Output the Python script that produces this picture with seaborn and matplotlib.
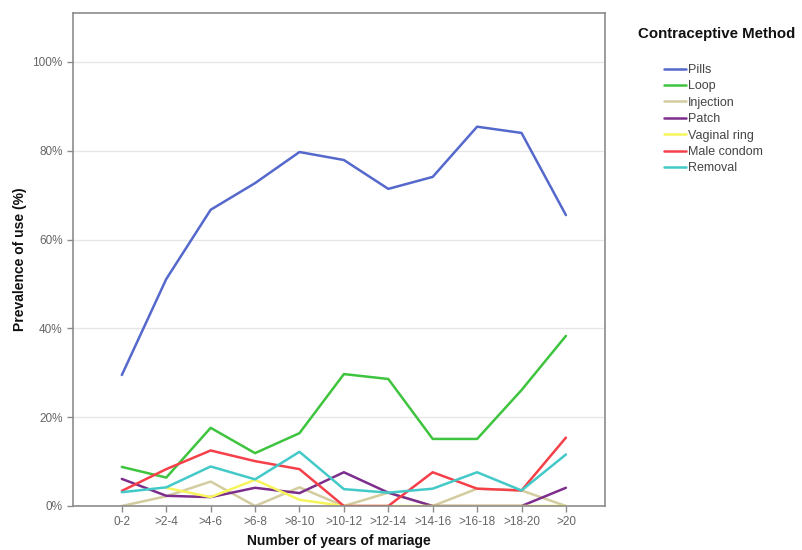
import numpy as np
import pandas as pd
import matplotlib
matplotlib.use("Agg")
import matplotlib.pyplot as plt
import seaborn as sns
from matplotlib.lines import Line2D

categories = ["0-2", ">2-4", ">4-6", ">6-8", ">8-10", ">10-12", ">12-14",
              ">14-16", ">16-18", ">18-20", ">20"]
pills = [29.5, 51.1, 66.7, 72.7, 79.7, 77.9, 71.4, 74.1, 85.4, 84.0, 65.5]
loop = [8.8, 6.4, 17.6, 11.9, 16.4, 29.7, 28.6, 15.1, 15.1, 26.1, 38.3]
injection = [0.0, 2.2, 5.5, 0.0, 4.2, 0.0, 3.0, 0.0, 3.9, 3.5, 0.0]
patch = [6.1, 2.3, 2.0, 4.1, 2.9, 7.6, 3.0, 0.0, 0.0, 0.0, 4.1]
vaginal_ring = [np.nan, 4.1, 2.0, 5.9, 1.4, 0.0, 0.0, 0.0, 0.0, 0.0, 0.0]
male_condom = [3.4, 8.3, 12.5, 10.1, 8.3, 0.0, 0.0, 7.6, 3.9, 3.5, 15.4]
removal = [3.1, 4.2, 8.9, 6.0, 12.2, 3.8, 3.0, 3.9, 7.6, 3.5, 11.6]

methods = ["Pills", "Loop", "Injection", "Patch", "Vaginal ring", "Male condom", "Removal"]
series = [pills, loop, injection, patch, vaginal_ring, male_condom, removal]
colors = ["#5568cc", "#3ec43e", "#d3cc9f", "#7d2e8c", "#f7f55c", "#f5404a", "#44c9c9"]

rows = []
for m, vals in zip(methods, series):
    for c, v in zip(categories, vals):
        rows.append({"years": c, "prev": v, "method": m})
df = pd.DataFrame(rows)

sns.set_style("white")
plt.rcParams["font.family"] = ["Liberation Sans", "DejaVu Sans"]

fig = plt.figure(figsize=(8.02, 5.5), dpi=100)
ax = fig.add_axes([73 / 802, 44 / 550, (605 - 73) / 802, (506 - 13) / 550])

sns.lineplot(data=df, x="years", y="prev", hue="method", hue_order=methods,
             palette=dict(zip(methods, colors)), linewidth=1.8, ax=ax,
             sort=False, legend=False)

ax.set_xlim(-1.1, 10.88)
ax.set_ylim(0, 111)
ax.set_yticks([0, 20, 40, 60, 80, 100])
ax.set_yticklabels(["0%", "20%", "40%", "60%", "80%", "100%"])
ax.set_xticks(range(len(categories)))
ax.set_xticklabels(categories)
ax.yaxis.grid(True, color="#e6e6e6", linewidth=0.9)
ax.set_axisbelow(True)
for s in ax.spines.values():
    s.set_color("#8c8c8c")
    s.set_linewidth(1.2)
ax.tick_params(axis="both", colors="#8c8c8c", labelcolor="#666666",
               labelsize=8.5, length=4, width=1, direction="out",
               left=True, bottom=True)
ax.set_xlabel("Number of years of mariage", fontsize=10, fontweight="bold",
              color="#111111", labelpad=4)
ax.set_ylabel("Prevalence of use (%)", fontsize=10, fontweight="bold",
              color="#111111", labelpad=4)

fig.text(638 / 802, 1 - 34 / 550, "Contraceptive Method", fontsize=10.8,
         fontweight="bold", color="#111111", ha="left", va="center")

handles = [Line2D([0], [0], color=c, lw=1.8) for c in colors]
leg = fig.legend(handles, methods, loc="upper left",
                 bbox_to_anchor=(664 / 802, 1 - 64 / 550),
                 frameon=False, fontsize=9, handlelength=1.75,
                 handletextpad=0.15, labelspacing=0.35, borderaxespad=0,
                 borderpad=0)
for t in leg.get_texts():
    t.set_color("#444444")

fig.savefig("out.png", dpi=100)
